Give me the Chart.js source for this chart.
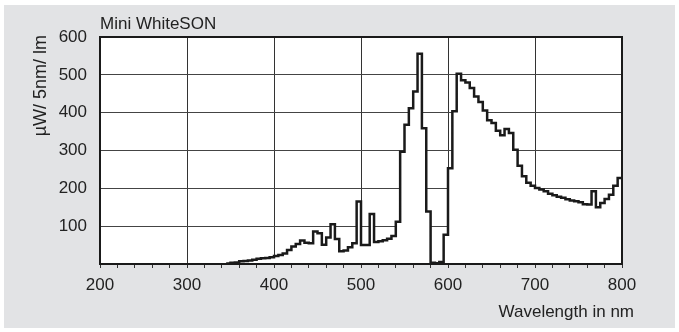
<!DOCTYPE html>
<html>
<head>
<meta charset="utf-8">
<script src="https://cdn.jsdelivr.net/npm/chart.js"></script>
<style>
  body { margin: 0; background: #fff; }
  canvas { display: block; }
</style>
</head>
<body>
<canvas id="spectrum" width="679" height="332"></canvas>
<script>
// 5 nm bins, value holds from each wavelength to the next one
const wavelengths = [345, 350, 355, 360, 365, 370, 375, 380, 385, 390, 395,
  400, 405, 410, 415, 420, 425, 430, 435, 440, 445, 450, 455, 460, 465, 470, 475,
  480, 485, 490, 495, 500, 505, 510, 515, 520, 525, 530, 535, 540, 545, 550, 555,
  560, 565, 570, 575, 580, 585, 590, 595, 600, 605, 610, 615, 620, 625, 630, 635,
  640, 645, 650, 655, 660, 665, 670, 675, 680, 685, 690, 695, 700, 705, 710, 715,
  720, 725, 730, 735, 740, 745, 750, 755, 760, 765, 770, 775, 780, 785, 790, 795, 800];
const power = [1, 3, 4, 7, 8, 9, 11, 14, 15, 16, 18,
  21, 24, 28, 37, 46, 53, 62, 56, 55, 86, 81, 51, 70, 105, 66, 34,
  36, 44, 55, 165, 50, 50, 132, 58, 60, 63, 67, 74, 112, 297, 368, 412,
  456, 556, 359, 139, 3, 2, 5, 77, 253, 404, 503, 486, 480, 465, 443, 428,
  406, 380, 373, 352, 340, 357, 346, 302, 260, 232, 215, 207, 201, 197, 192, 186,
  182, 178, 175, 171, 168, 166, 163, 158, 157, 192, 150, 161, 172, 183, 207, 227, 227];

const chartTitle = 'Mini WhiteSON';
const yLabel = 'µW/ 5nm/ lm';
const xLabel = 'Wavelength in nm';

const font = '"Liberation Sans", Arial, sans-serif';

const frame = {
  id: 'frame',
  beforeDraw(chart) {
    const c = chart.ctx, a = chart.chartArea;
    c.save();
    c.fillStyle = '#fff';
    c.fillRect(0, 0, chart.width, chart.height);
    c.fillStyle = '#e2e3e5';
    c.fillRect(4, 5, 671, 323);
    c.fillStyle = '#fff';
    c.fillRect(a.left, a.top, a.right - a.left, a.bottom - a.top);
    c.restore();
  },
  afterDraw(chart) {
    const c = chart.ctx, a = chart.chartArea;
    c.save();
    c.strokeStyle = '#1a1a1a';
    c.lineWidth = 2;
    c.strokeRect(a.left, a.top, a.right - a.left, a.bottom - a.top);
    c.fillStyle = '#222';
    c.font = '17px ' + font;
    c.textBaseline = 'alphabetic';
    c.textAlign = 'left';
    c.fillText(chartTitle, a.left, 29);
    c.textAlign = 'right';
    c.fillText(xLabel, 634, 317);
    c.translate(46, 35);
    c.rotate(-Math.PI / 2);
    c.font = '18px ' + font;
    c.fillText(yLabel, 0, 0);
    c.restore();
  }
};

new Chart(document.getElementById('spectrum'), {
  type: 'line',
  data: {
    datasets: [{
      data: wavelengths.map((w, i) => ({ x: w, y: power[i] })),
      stepped: true,
      borderColor: '#1a1a1a',
      borderWidth: 2.5,
      backgroundColor: '#fff',
      fill: 'origin',
      pointRadius: 0
    }]
  },
  options: {
    responsive: false,
    animation: false,
    layout: { padding: { top: 37, right: 57, left: 0, bottom: 0 } },
    plugins: { legend: { display: false }, tooltip: { enabled: false } },
    scales: {
      x: {
        type: 'linear',
        min: 200,
        max: 800,
        afterFit(s) { s.height = 68; },
        ticks: {
          stepSize: 20,
          autoSkip: false,
          maxRotation: 0,
          padding: 7,
          color: '#222',
          font: { family: font, size: 17 },
          callback: v => (v % 100 === 0 ? v : '')
        },
        grid: {
          color: c => (c.tick && c.tick.value % 100 === 0 ? '#333' : 'rgba(0,0,0,0)'),
          tickColor: '#333',
          tickLength: 4,
          lineWidth: 1
        },
        border: { color: '#1a1a1a', width: 2 }
      },
      y: {
        min: 0,
        max: 600,
        afterFit(s) { s.width = 100; },
        ticks: {
          stepSize: 100,
          padding: 13,
          color: '#222',
          font: { family: font, size: 17 },
          callback: v => (v === 0 ? '' : v)
        },
        grid: { color: '#444', lineWidth: 1, drawTicks: false },
        border: { color: '#1a1a1a', width: 2 }
      }
    }
  },
  plugins: [frame]
});
</script>
</body>
</html>
